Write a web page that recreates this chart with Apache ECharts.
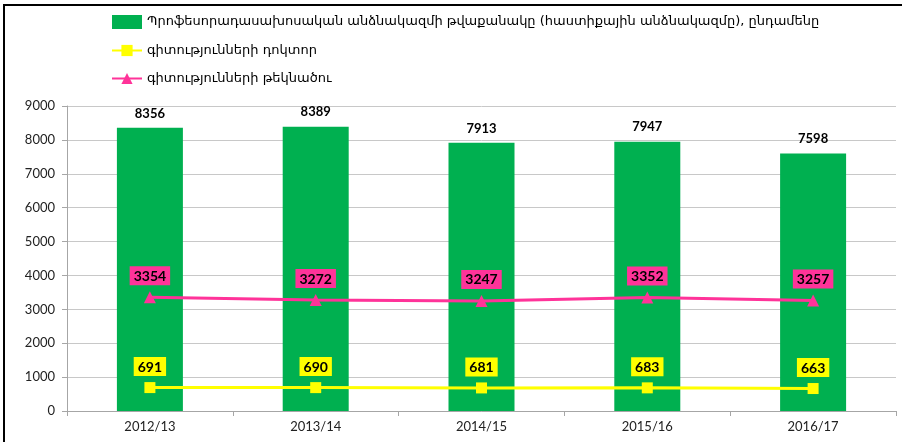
<!DOCTYPE html>
<html>
<head>
<meta charset="utf-8">
<script src="https://cdn.jsdelivr.net/npm/echarts@6/dist/echarts.min.js"></script>
<style>
  html, body { margin: 0; padding: 0; background: #fff; }
  #chart { width: 902px; height: 442px; }
  #frame { position: absolute; left: 3px; top: 4px; width: 899px; height: 438px;
           border-top: 2px solid #000; border-left: 2px solid #000; box-sizing: border-box; pointer-events: none; }
</style>
</head>
<body>
<div id="chart"></div>
<div id="frame"></div>
<script>
var years = ['2012/13', '2013/14', '2014/15', '2015/16', '2016/17'];
var staffTotal = [8356, 8389, 7913, 7947, 7598];
var doctors = [691, 690, 681, 683, 663];
var candidates = [3354, 3272, 3247, 3352, 3257];
var seriesNames = [
  'Պրոֆեսորադասախոսական անձնակազմի թվաքանակը (հաստիքային անձնակազմը), ընդամենը',
  'գիտությունների դոկտոր',
  'գիտությունների թեկնածու'
];

var myChart = echarts.init(document.getElementById('chart'));

var numFont = 'Lato, "Open Sans", sans-serif';

myChart.setOption({
  animation: false,
  legend: {
    orient: 'vertical',
    left: 106,
    top: 10,
    itemGap: 15,
    itemWidth: 30,
    itemHeight: 14,
    textStyle: { fontFamily: '"DejaVu Sans", sans-serif', fontSize: 13, color: '#000' },
    data: [
      { name: seriesNames[0], icon: 'rect' },
      { name: seriesNames[1] },
      { name: seriesNames[2] }
    ]
  },
  grid: { left: 67, right: 6, top: 106, bottom: 31 },
  xAxis: {
    type: 'category',
    data: years,
    axisLine: { lineStyle: { color: '#a6a6a6' } },
    axisTick: { show: true, length: 5, lineStyle: { color: '#a6a6a6' } },
    axisLabel: { fontFamily: numFont, fontSize: 13, color: '#222', margin: 9 }
  },
  yAxis: {
    type: 'value',
    min: 0,
    max: 9000,
    interval: 1000,
    axisLine: { show: true, lineStyle: { color: '#a6a6a6' } },
    axisTick: { show: true, length: 5, lineStyle: { color: '#a6a6a6' } },
    splitLine: { lineStyle: { color: '#c8c8c8' } },
    axisLabel: {
      fontFamily: numFont, fontSize: 13, color: '#222', margin: 12,
      formatter: function (v) { return String(v); }
    }
  },
  series: [
    {
      name: seriesNames[0],
      type: 'bar',
      data: staffTotal,
      barWidth: 66,
      itemStyle: { color: '#00B050' },
      label: {
        show: true, position: 'top', distance: 8,
        fontFamily: numFont, fontWeight: 'bold', fontSize: 13, color: '#000'
      }
    },
    {
      name: seriesNames[1],
      type: 'line',
      data: doctors,
      symbol: 'rect',
      symbolSize: 11,
      color: '#FFFF00',
      lineStyle: { width: 3, color: '#FFFF00' },
      itemStyle: { color: '#FFFF00' },
      label: {
        show: true, position: 'top', distance: 6,
        fontFamily: numFont, fontWeight: 'bold', fontSize: 14, color: '#000',
        backgroundColor: '#FFFF00', padding: [3, 4, 2, 4]
      },
      z: 3
    },
    {
      name: seriesNames[2],
      type: 'line',
      data: candidates,
      symbol: 'triangle',
      symbolSize: 12,
      color: '#FF3399',
      lineStyle: { width: 3, color: '#FF3399' },
      itemStyle: { color: '#FF3399' },
      label: {
        show: true, position: 'top', distance: 6,
        fontFamily: numFont, fontWeight: 'bold', fontSize: 14, color: '#000',
        backgroundColor: '#FF3399', padding: [3, 4, 2, 4]
      },
      z: 3
    }
  ]
});
</script>
</body>
</html>
